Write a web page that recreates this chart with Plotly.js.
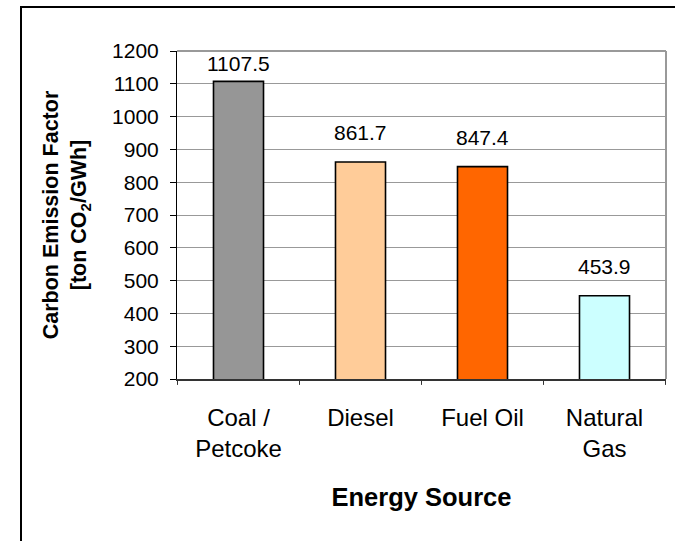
<!DOCTYPE html>
<html>
<head>
<meta charset="utf-8">
<script src="https://cdn.plot.ly/plotly-3.0.1.min.js"></script>
<style>
  html, body { margin: 0; padding: 0; background: #fff; }
  #wrap { position: relative; width: 675px; height: 541px; overflow: hidden; }
  #frame { position: absolute; left: 20px; top: 6px; right: -4px; bottom: -4px;
           border-top: 2px solid #000; border-left: 2px solid #000; pointer-events: none; }
  #chart { position: absolute; left: 0; top: 0; width: 675px; height: 541px; }
</style>
</head>
<body>
<div id="wrap">
  <div id="chart"></div>
  <div id="frame"></div>
</div>
<script>
// Carbon emission factor by energy source (ton CO2 per GWh)
const categories = ["Coal / Petcoke", "Diesel", "Fuel Oil", "Natural Gas"];
const tickLabels = ["Coal /<br>Petcoke", "Diesel", "Fuel Oil", "Natural<br>Gas"];
const emissionFactors = [1107.5, 861.7, 847.4, 453.9];
const barColors = ["#969696", "#FFCC99", "#FF6600", "#CCFFFF"];
const yTicks = [200, 300, 400, 500, 600, 700, 800, 900, 1000, 1100, 1200];

const FONT = "Liberation Sans, Arial, Helvetica, sans-serif";
const yMin = 200, yMax = 1200;
const plotTop = 51, plotBottom = 379;
const pxPerUnit = (plotBottom - plotTop) / (yMax - yMin);

const bars = {
  type: "bar",
  x: categories,
  y: emissionFactors,
  base: 0,
  width: 0.41,
  marker: { color: barColors, line: { color: "#000", width: 1.6 } },
  hoverinfo: "x+y"
};

// value labels sit above each bar, kept inside the plot frame near the top
const labelAnnotations = categories.map((c, i) => {
  const v = emissionFactors[i];
  const room = (yMax - v) * pxPerUnit;
  return {
    x: c, y: v, xref: "x", yref: "y",
    text: v.toFixed(1),
    showarrow: false,
    yanchor: "middle",
    yshift: Math.min(29, room - 12),
    font: { family: FONT, size: 21, color: "#000" }
  };
});

const layout = {
  width: 675, height: 541,
  margin: { l: 177, r: 9, t: plotTop, b: 541 - plotBottom, pad: 0 },
  paper_bgcolor: "rgba(0,0,0,0)",
  plot_bgcolor: "#fff",
  showlegend: false,
  bargap: 0.59,
  xaxis: {
    type: "category",
    tickmode: "array",
    tickvals: categories,
    ticktext: tickLabels,
    showgrid: false,
    showline: true, linecolor: "#333", linewidth: 2,
    mirror: false,
    ticks: "",
    ticklabelstandoff: 16,
    tickfont: { family: FONT, size: 24, color: "#000" },
    title: { text: "<b>Energy Source</b>", font: { family: FONT, size: 25.5, color: "#000" }, standoff: 27 },
    automargin: false,
    fixedrange: true
  },
  yaxis: {
    range: [yMin, yMax],
    tickmode: "array",
    tickvals: yTicks,
    ticktext: yTicks.map(String),
    showgrid: true, gridcolor: "#999", gridwidth: 1,
    showline: true, linecolor: "#000", linewidth: 1,
    ticks: "outside", ticklen: 6, tickcolor: "#000", tickwidth: 1,
    ticklabelstandoff: 7,
    tickfont: { family: FONT, size: 21, color: "#000" },
    zeroline: false,
    title: { text: "<b>Carbon Emission Factor<br>[ton CO<sub>2</sub>/GWh]</b>", font: { family: FONT, size: 21.5, color: "#000" }, standoff: 19 },
    automargin: false,
    fixedrange: true
  },
  annotations: labelAnnotations,
  shapes: [
    // grey frame on the top and right of the plotting area
    { type: "line", xref: "paper", yref: "paper", x0: 0, x1: 1, y0: 1, y1: 1, line: { color: "#999", width: 2 } },
    { type: "line", xref: "paper", yref: "paper", x0: 1, x1: 1, y0: 0, y1: 1, line: { color: "#999", width: 2 } },
    // category separator ticks below the x axis
    ...[0, 1, 2, 3, 4].map(k => ({
      type: "line", xref: "x", yref: "paper",
      x0: k - 0.5, x1: k - 0.5, y0: 0, y1: -0.018,
      line: { color: "#333", width: 1 }
    }))
  ]
};

Plotly.newPlot("chart", [bars], layout, { displayModeBar: false, staticPlot: true });
</script>
</body>
</html>
